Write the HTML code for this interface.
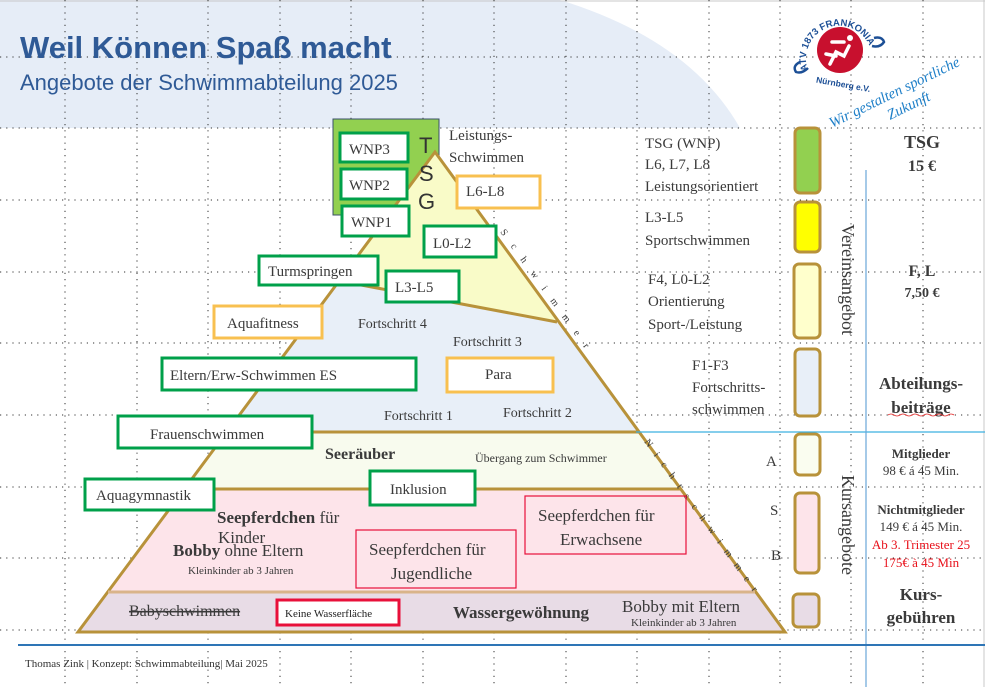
<!DOCTYPE html>
<html><head><meta charset="utf-8"><style>
html,body{margin:0;padding:0;background:#fff}
svg{display:block}
text{font-family:"Liberation Serif",serif;fill:#3a3a3a}
.s{font-family:"Liberation Sans",sans-serif}
.b{font-weight:bold}
</style></head><body>
<svg width="985" height="687" viewBox="0 0 985 687" xmlns="http://www.w3.org/2000/svg">
<path d="M0 0 H560 Q690 40 740 128 H0 Z" fill="#e6edf7"/>
<line x1="0" y1="1" x2="985" y2="1" stroke="#c8c8c8"/>
<line x1="984" y1="0" x2="984" y2="687" stroke="#c8c8c8"/>
<g stroke="#333" stroke-width="1" stroke-dasharray="1.2 5">
<line x1="0" y1="57" x2="985" y2="57"/>
<line x1="0" y1="128" x2="985" y2="128"/>
<line x1="0" y1="200" x2="985" y2="200"/>
<line x1="0" y1="272" x2="985" y2="272"/>
<line x1="0" y1="343" x2="985" y2="343"/>
<line x1="0" y1="415" x2="985" y2="415"/>
<line x1="0" y1="487" x2="985" y2="487"/>
<line x1="0" y1="558" x2="985" y2="558"/>
<line x1="0" y1="630" x2="985" y2="630"/>
<line x1="65" y1="0" x2="65" y2="687"/>
<line x1="137" y1="0" x2="137" y2="687"/>
<line x1="208" y1="0" x2="208" y2="687"/>
<line x1="280" y1="0" x2="280" y2="687"/>
<line x1="351" y1="0" x2="351" y2="687"/>
<line x1="423" y1="0" x2="423" y2="687"/>
<line x1="494" y1="0" x2="494" y2="687"/>
<line x1="566" y1="0" x2="566" y2="687"/>
<line x1="637" y1="0" x2="637" y2="687"/>
<line x1="709" y1="0" x2="709" y2="687"/>
<line x1="780" y1="0" x2="780" y2="687"/>
<line x1="851" y1="0" x2="851" y2="687"/>
<line x1="923" y1="0" x2="923" y2="687"/>
</g>
<text x="20" y="58" class="s b" font-size="31" style="fill:#2f5a96">Weil Können Spaß macht</text>
<text x="20" y="90" class="s" font-size="22" style="fill:#2f5a96">Angebote der Schwimmabteilung 2025</text>

<rect x="333" y="119" width="106" height="96" fill="#92d050" stroke="#3b4f6a" stroke-width="1"/>

<polygon points="435,152 785,632 78,632" fill="#e8eff8"/>
<polygon points="435,152 557,322 340,281" fill="#ffffb8" opacity="0.75"/>
<polygon points="227,432 639,432 680,489 184,489" fill="#f8fbee"/>
<polygon points="184,489 680,489 755,592 108,592" fill="#fde4ea"/>
<polygon points="108,592 755,592 785,632 78,632" fill="#e8dce6"/>
<g stroke="#b8923a" stroke-width="3" fill="none">
<polygon points="435,152 785,632 78,632"/>
<polyline points="340,281 557,322"/>
<line x1="227" y1="432" x2="639" y2="432"/>
<line x1="184" y1="489" x2="680" y2="489"/>
<line x1="108" y1="592" x2="755" y2="592" stroke="#d9b48a"/>
</g>
<text transform="translate(500,232) rotate(54)" font-size="10" letter-spacing="12">Schwimmer</text>
<text transform="translate(644,442) rotate(54)" font-size="10" letter-spacing="9">Nichtschwimmer</text>

<text x="419" y="153" class="s" font-size="22" style="fill:#333">T</text>
<text x="419" y="181" class="s" font-size="22" style="fill:#333">S</text>
<text x="418" y="209" class="s" font-size="22" style="fill:#333">G</text>

<g fill="#fff" stroke="#00a04a" stroke-width="3">
<rect x="340" y="133" width="68" height="29"/>
<rect x="341" y="169" width="66" height="30"/>
<rect x="342" y="206" width="67" height="30"/>
<rect x="424" y="226" width="72" height="31"/>
<rect x="259" y="256" width="119" height="29"/>
<rect x="386" y="271" width="73" height="31"/>
<rect x="162" y="358" width="254" height="32"/>
<rect x="118" y="416" width="194" height="32"/>
<rect x="85" y="479" width="129" height="31"/>
<rect x="370" y="471" width="105" height="34"/>
</g>
<g fill="#fff" stroke="#f8c050" stroke-width="3">
<rect x="457" y="176" width="83" height="32"/>
<rect x="214" y="306" width="108" height="32"/>
<rect x="447" y="358" width="106" height="34"/>
</g>
<g fill="none" stroke="#e8103a" stroke-width="1.2">
<rect x="356" y="530" width="160" height="58"/>
<rect x="525" y="496" width="161" height="58"/>
</g>
<rect x="277" y="600" width="122" height="25" fill="#fff" stroke="#e8103a" stroke-width="3"/>

<g font-size="15">
<text x="349" y="154">WNP3</text>
<text x="349" y="190">WNP2</text>
<text x="351" y="227">WNP1</text>
<text x="433" y="248">L0-L2</text>
<text x="268" y="276">Turmspringen</text>
<text x="395" y="292">L3-L5</text>
<text x="170" y="380">Eltern/Erw-Schwimmen ES</text>
<text x="150" y="439">Frauenschwimmen</text>
<text x="96" y="500">Aquagymnastik</text>
<text x="390" y="494">Inklusion</text>
<text x="466" y="196">L6-L8</text>
<text x="227" y="328">Aquafitness</text>
<text x="485" y="379">Para</text>
<text x="449" y="140">Leistungs-</text>
<text x="449" y="162">Schwimmen</text>
<text x="358" y="328" font-size="14">Fortschritt 4</text>
<text x="453" y="346" font-size="14">Fortschritt 3</text>
<text x="384" y="420" font-size="14">Fortschritt 1</text>
<text x="503" y="417" font-size="14">Fortschritt 2</text>
</g>
<text x="325" y="459" font-size="16" class="b">Seeräuber</text>
<text x="475" y="462" font-size="12">Übergang zum Schwimmer</text>
<text x="217" y="523" font-size="17"><tspan class="b">Seepferdchen</tspan> für</text>
<text x="218" y="543" font-size="17">Kinder</text>
<text x="173" y="556" font-size="17"><tspan class="b">Bobby</tspan> ohne Eltern</text>
<text x="188" y="574" font-size="11">Kleinkinder ab 3 Jahren</text>
<text x="369" y="555" font-size="17">Seepferdchen für</text>
<text x="391" y="579" font-size="17">Jugendliche</text>
<text x="538" y="521" font-size="17">Seepferdchen für</text>
<text x="560" y="545" font-size="17">Erwachsene</text>
<text x="129" y="616" font-size="16" text-decoration="line-through">Babyschwimmen</text>
<text x="285" y="617" font-size="11" style="fill:#222">Keine Wasserfläche</text>
<text x="453" y="618" font-size="17" class="b">Wassergewöhnung</text>
<text x="622" y="612" font-size="17">Bobby mit Eltern</text>
<text x="631" y="626" font-size="11">Kleinkinder ab 3 Jahren</text>

<g font-size="15">
<text x="645" y="148">TSG (WNP)</text>
<text x="645" y="169">L6, L7, L8</text>
<text x="645" y="191">Leistungsorientiert</text>
<text x="645" y="222">L3-L5</text>
<text x="645" y="245">Sportschwimmen</text>
<text x="648" y="284">F4, L0-L2</text>
<text x="648" y="306">Orientierung</text>
<text x="648" y="329">Sport-/Leistung</text>
<text x="692" y="370">F1-F3</text>
<text x="692" y="392">Fortschritts-</text>
<text x="692" y="414">schwimmen</text>
<text x="766" y="466">A</text>
<text x="770" y="515">S</text>
<text x="771" y="560">B</text>
</g>
<g stroke="#b8923a" stroke-width="3">
<rect x="795" y="128" width="25" height="65" rx="5" fill="#92d050"/>
<rect x="795" y="202" width="25" height="50" rx="5" fill="#ffff00"/>
<rect x="794" y="264" width="26" height="74" rx="5" fill="#ffffcc"/>
<rect x="795" y="349" width="25" height="67" rx="5" fill="#e8eff8"/>
<rect x="795" y="434" width="25" height="41" rx="5" fill="#fafdf0"/>
<rect x="795" y="493" width="24" height="80" rx="5" fill="#fde4ea"/>
<rect x="793" y="594" width="26" height="33" rx="5" fill="#e8dce6"/>
</g>
<text transform="translate(842,224) rotate(90)" font-size="18">Vereinsangebot</text>
<text transform="translate(842,475) rotate(90)" font-size="18">Kursangebote</text>
<line x1="636" y1="432" x2="985" y2="432" stroke="#3cb0e0" stroke-width="1.2"/>
<line x1="866" y1="170" x2="866" y2="687" stroke="#6aa6d8" stroke-width="1.2"/>
<line x1="18" y1="645" x2="985" y2="645" stroke="#2e75b6" stroke-width="2"/>
<text x="25" y="667" font-size="11" style="fill:#333">Thomas Zink | Konzept: Schwimmabteilung| Mai 2025</text>

<g text-anchor="middle">
<text x="922" y="148" font-size="18" class="b">TSG</text>
<text x="922" y="171" font-size="16" class="b">15 €</text>
<text x="922" y="276" font-size="16" class="b">F, L</text>
<text x="922" y="297" font-size="14" class="b">7,50 €</text>
<text x="921" y="389" font-size="17" class="b">Abteilungs-</text>
<text x="921" y="413" font-size="17" class="b">beiträge</text>
<text x="921" y="458" font-size="13" class="b">Mitglieder</text>
<text x="921" y="475" font-size="13">98 € á 45 Min.</text>
<text x="921" y="514" font-size="13" class="b">Nichtmitglieder</text>
<text x="921" y="531" font-size="13">149 € á 45 Min.</text>
<text x="921" y="549" font-size="13" style="fill:#e8101a">Ab 3. Trimester 25</text>
<text x="921" y="567" font-size="13" style="fill:#e8101a">175€ à 45 Min</text>
<text x="921" y="600" font-size="17" class="b">Kurs-</text>
<text x="921" y="623" font-size="17" class="b">gebühren</text>
</g>
<path d="M888 415 q3 -2 6 0 t6 0 t6 0 t6 0 t6 0 t6 0 t6 0 t6 0 t6 0 t6 0 t6 0" stroke="#e02020" stroke-width="0.8" fill="none"/>

<!-- logo -->
<defs><path id="arc" d="M808 70 A33 33 0 1 1 872 58"/></defs>
<path d="M800 62 q-8 4 -4 10 q6 2 12 -4 M874 38 q8 -2 10 4 q-4 6 -12 4" fill="none" stroke="#1c4f96" stroke-width="2.5"/>
<circle cx="840" cy="50" r="23" fill="#c8102e"/>
<text class="s b" font-size="9.5" style="fill:#1c4f96"><textPath href="#arc">ATV 1873 FRANKONIA</textPath></text>
<text x="816" y="85" class="s b" font-size="8.5" style="fill:#1c4f96" transform="rotate(10 830 82)">Nürnberg e.V.</text>
<path d="M830 64 l6 -12 l8 4 l5 -10 M832 42 h12 M826 54 l10 2" stroke="#fff" stroke-width="3.5" fill="none" stroke-linecap="round"/>
<circle cx="850" cy="38" r="3" fill="#fff"/>
<text x="832" y="128" font-size="15" font-style="italic" style="fill:#1e7fc8" transform="rotate(-26 832 128)">Wir gestalten sportliche</text>
<text x="890" y="120" font-size="15" font-style="italic" style="fill:#1e7fc8" transform="rotate(-26 890 120)">Zukunft</text>
</svg>
</body></html>
